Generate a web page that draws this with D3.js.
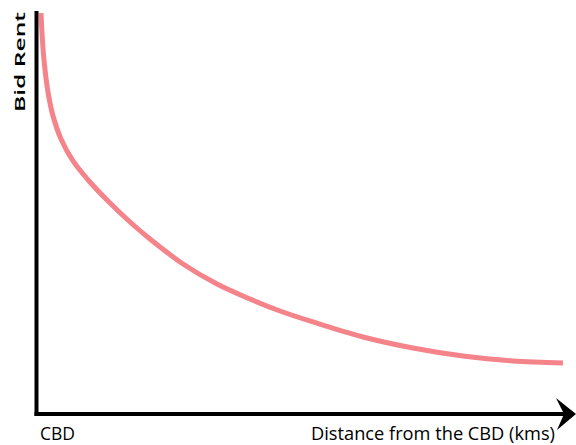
<!DOCTYPE html>
<html><head><meta charset="utf-8">
<script src="https://cdn.jsdelivr.net/npm/d3@7"></script>
<style>body{margin:0;background:#fff}svg{display:block}</style>
</head><body>
<script>
const distance = [0.94, 1.19, 1.51, 2.26, 3.21, 4.72, 6.98, 10.0, 13.58, 17.74, 21.51, 27.74, 34.15, 40.38, 46.04, 52.26, 61.70, 71.13, 80.57, 90.0, 99.43];
const bidRent = [99.5, 93.28, 87.81, 79.85, 73.88, 68.16, 62.69, 57.71, 52.74, 47.51, 43.28, 37.06, 32.09, 28.36, 25.37, 22.64, 18.91, 16.17, 14.18, 12.94, 12.44];
const xLabel = "Distance from the CBD (kms)";
const yLabel = "Bid Rent";
const originLabel = "CBD";

const W = 576, H = 445;
const svg = d3.select("body").append("svg").attr("width", W).attr("height", H);
const x = d3.scaleLinear().domain([0, 100]).range([36, 566]);
const y = d3.scaleLinear().domain([0, 100]).range([413, 11]);
const pts = distance.map((d, i) => [d, bidRent[i]]);

svg.append("path")
  .attr("d", d3.line().x(d => x(d[0])).y(d => y(d[1])).curve(d3.curveCatmullRom.alpha(0.5))(pts))
  .attr("fill", "none").attr("stroke", "#f4838a").attr("stroke-width", 5).attr("stroke-linecap", "butt");

// axes
svg.append("line").attr("x1", x(0) + 0.5).attr("x2", x(0) + 0.5).attr("y1", y(100)).attr("y2", y(0) + 3)
  .attr("stroke", "#000").attr("stroke-width", 4);
svg.append("line").attr("x1", x(0) - 1.5).attr("x2", 566).attr("y1", y(0) + 1).attr("y2", y(0) + 1)
  .attr("stroke", "#000").attr("stroke-width", 4);
svg.append("path").attr("d", `M556,398 L576,414 L557,430 L564,414 Z`).attr("fill", "#000");

svg.append("text").text(yLabel)
  .attr("transform", `translate(25,62) rotate(-90)`)
  .attr("text-anchor", "middle")
  .attr("font-family", "Open Sans").attr("font-weight", 600).attr("font-size", 15)
  .attr("textLength", 100).attr("lengthAdjust", "spacingAndGlyphs");
svg.append("text").text(originLabel)
  .attr("x", 40).attr("y", 440)
  .attr("font-family", "Liberation Sans Narrow, Open Sans").attr("font-size", 18)
  .attr("textLength", 35).attr("lengthAdjust", "spacingAndGlyphs");
svg.append("text").text(xLabel)
  .attr("x", 311).attr("y", 440)
  .attr("font-family", "Liberation Sans Narrow, Open Sans").attr("font-size", 18)
  .attr("textLength", 244).attr("lengthAdjust", "spacingAndGlyphs");
</script>
</body></html>
